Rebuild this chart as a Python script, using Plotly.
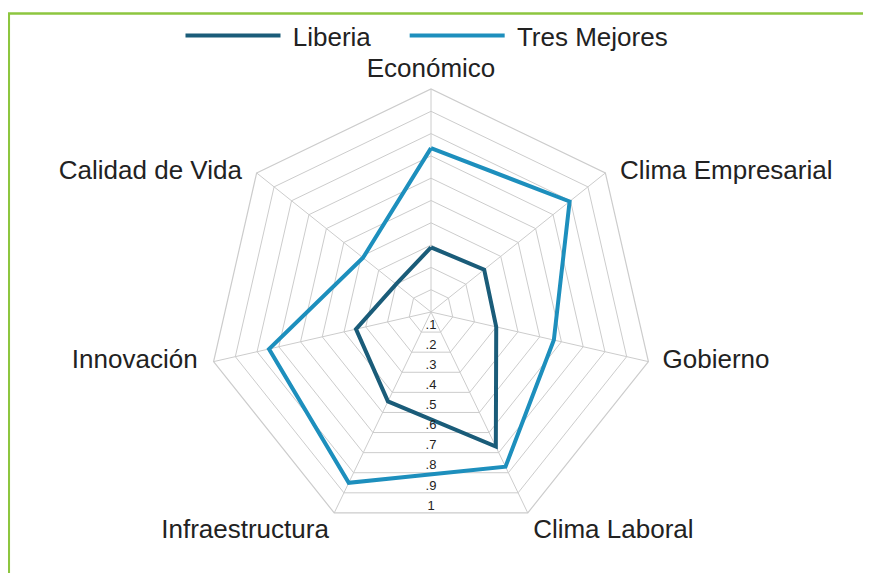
import math
import plotly.graph_objects as go

categories = ["Económico", "Clima Empresarial", "Gobierno", "Clima Laboral",
              "Infraestructura", "Innovación", "Calidad de Vida"]
liberia = [0.29, 0.305, 0.30, 0.67, 0.445, 0.345, 0.20]
tres_mejores = [0.735, 0.795, 0.565, 0.77, 0.85, 0.745, 0.39]
radial_ticks = [0.1, 0.2, 0.3, 0.4, 0.5, 0.6, 0.7, 0.8, 0.9, 1.0]
radial_ticktext = [".1", ".2", ".3", ".4", ".5", ".6", ".7", ".8", ".9", "1"]

# label placement styles (per category)
label_pos = ["top center", "middle right", "middle right", "bottom right",
             "bottom left", "middle left", "middle left"]
label_pad = [8, 22, 21, 7, 7, 24, 22]

W, H = 871, 573
# page has an 8px body margin; figure coordinates below are page - 8
cx, cy, R = 423, 304, 223

fig = go.Figure()
fig.add_trace(go.Scatterpolar(
    r=liberia + liberia[:1], theta=categories + categories[:1],
    mode="lines", name="\u00a0Liberia\u00a0\u00a0\u00a0\u00a0",
    line=dict(color="#1a5c79", width=4)))
fig.add_trace(go.Scatterpolar(
    r=tres_mejores + tres_mejores[:1], theta=categories + categories[:1],
    mode="lines", name="\u00a0Tres Mejores",
    line=dict(color="#1d8fbd", width=4)))
# category labels at the outer ring
fig.add_trace(go.Scatterpolar(
    r=[1.0] * len(categories), theta=categories, mode="markers+text",
    text=categories, textposition=label_pos,
    marker=dict(size=label_pad, opacity=0, color="white"),
    textfont=dict(size=26, color="#222222"),
    showlegend=False, hoverinfo="skip", cliponaxis=False))
# radial value labels along the downward direction
fig.add_trace(go.Scatterpolar(
    r=radial_ticks, theta=[180] * len(radial_ticks), mode="text",
    text=radial_ticktext, textposition="top center",
    textfont=dict(size=13, color="#222222"),
    showlegend=False, hoverinfo="skip", subplot="polar2", cliponaxis=False))

grid = "#cccccc"
dom = dict(x=[(cx - R) / W, (cx + R) / W],
           y=[(H - cy - R) / H, (H - cy + R) / H])
fig.update_layout(
    width=W, height=H,
    margin=dict(l=0, r=0, t=0, b=0),
    paper_bgcolor="white",
    font=dict(family="Liberation Sans, Arial, sans-serif", color="#222222"),
    showlegend=True,
    legend=dict(orientation="h", x=419 / W, xanchor="center", y=1 - 4 / H, yanchor="top",
                font=dict(size=26, color="#222222"), itemwidth=95,
                bgcolor="rgba(0,0,0,0)"),
    polar=dict(
        domain=dom,
        gridshape="linear",
        bgcolor="white",
        angularaxis=dict(direction="clockwise", rotation=90,
                         showticklabels=False,
                         linecolor=grid, linewidth=1.2,
                         gridcolor=grid, gridwidth=1.2,
                         ticks="", showline=True),
        radialaxis=dict(range=[0, 1], tickvals=radial_ticks,
                        showticklabels=False, showline=False, ticks="",
                        gridcolor=grid, gridwidth=1.2),
    ),
    polar2=dict(
        domain=dom,
        bgcolor="rgba(0,0,0,0)",
        angularaxis=dict(direction="clockwise", rotation=90, visible=False,
                         showgrid=False, showline=False, showticklabels=False),
        radialaxis=dict(range=[0, 1 / math.cos(math.pi / 7)], visible=False,
                        showgrid=False, showline=False, showticklabels=False),
    ),
    shapes=[
        dict(type="line", xref="paper", yref="paper", x0=0, x1=1,
             y0=1 - 5.5 / H, y1=1 - 5.5 / H,
             line=dict(color="#8dc63f", width=2.5)),
        dict(type="line", xref="paper", yref="paper", x0=0.8 / W, x1=0.8 / W,
             y0=0, y1=1 - 5.5 / H,
             line=dict(color="#8dc63f", width=2.5)),
    ],
)

fig.write_html("out.html")
